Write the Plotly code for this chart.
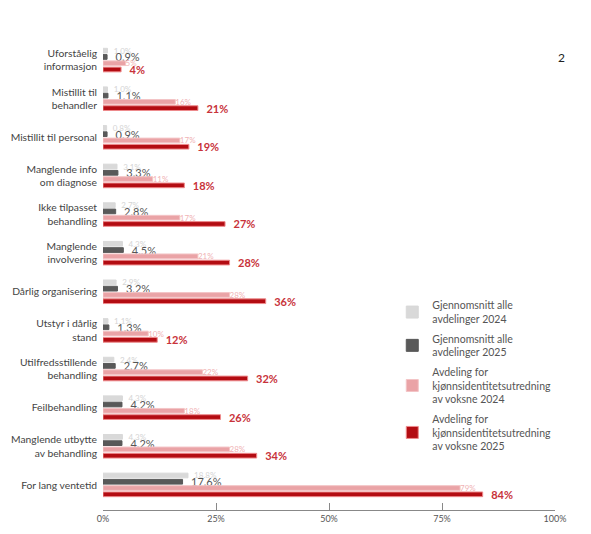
import plotly.graph_objects as go

categories = [
    "Uforståelig<br>informasjon",
    "Mistillit til<br>behandler",
    "Mistillit til personal",
    "Manglende info<br>om diagnose",
    "Ikke tilpasset<br>behandling",
    "Manglende<br>involvering",
    "Dårlig organisering",
    "Utstyr i dårlig<br>stand",
    "Utilfredsstillende<br>behandling",
    "Feilbehandling",
    "Manglende utbytte<br>av behandling",
    "For lang ventetid",
]
avg_2024 = [1.0, 1.0, 0.8, 3.1, 2.7, 4.3, 2.9, 1.1, 2.4, 4.3, 4.3, 18.8]
avg_2025 = [0.9, 1.1, 0.9, 3.3, 2.8, 4.5, 3.2, 1.3, 2.7, 4.2, 4.2, 17.6]
dept_2024 = [5, 16, 17, 11, 17, 21, 28, 10, 22, 18, 28, 79]
dept_2025 = [4, 21, 19, 18, 27, 28, 36, 12, 32, 26, 34, 84]
x_ticks = [0, 25, 50, 75, 100]

NB = "\u00a0\u00a0\u00a0"

series = [
    dict(name="Gjennomsnitt alle<br>avdelinger 2024", x=avg_2024, color="#d9d9d9",
         line="#d9d9d9", fmt=NB + "%{x:.1f}%", font=dict(size=8, color="#d4d4d4")),
    dict(name="Gjennomsnitt alle<br>avdelinger 2025", x=avg_2025, color="#595959",
         line="#595959", fmt=NB + "%{x:.1f}%", font=dict(size=11, color="#555555")),
    dict(name="Avdeling for<br>kjønnsidentitetsutredning<br>av voksne 2024", x=dept_2024,
         color="#eaa3a6", line="#f3c4c6", fmt="%{x:.0f}%", font=dict(size=8, color="#f0b3b5")),
    dict(name="Avdeling for<br>kjønnsidentitetsutredning<br>av voksne 2025", x=dept_2025,
         color="#b30c12", line="#ee8a8c", fmt=NB + "<b>%{x:.0f}%</b>",
         font=dict(size=11, color="#c8323a")),
]

fig = go.Figure()
for i, s in enumerate(series):
    fig.add_bar(
        name=s["name"],
        y=categories,
        x=s["x"],
        orientation="h",
        marker=dict(color=s["color"], line=dict(color=s["line"], width=1)),
        texttemplate=s["fmt"],
        textposition="outside",
        textfont=s["font"],
        constraintext="none",
        cliponaxis=False,
        legendgroup=str(i),
        hoverinfo="skip",
    )

# page has an 8px body margin, so the figure is a bit smaller than the window
fig.update_layout(
    width=575,
    height=518,
    barmode="group",
    bargap=0.35,
    bargroupgap=0.25,
    plot_bgcolor="white",
    paper_bgcolor="white",
    font=dict(family="Lato", size=11, color="#444444"),
    margin=dict(l=95, r=28, t=32, b=16, autoexpand=False),
    showlegend=True,
    legend=dict(
        x=0.64, y=0.464, xanchor="left", yanchor="top",
        traceorder="grouped", tracegroupgap=3,
        font=dict(size=10.5, color="#555555"),
        bgcolor="rgba(0,0,0,0)", itemwidth=30,
    ),
    xaxis=dict(
        range=[0, 100],
        tickvals=x_ticks,
        ticktext=[f"{v}%" for v in x_ticks],
        ticks="inside", ticklen=7, tickcolor="#888888",
        showline=True, linecolor="#888888", linewidth=1,
        showgrid=False, zeroline=False, automargin=False,
        tickfont=dict(size=9, color="#555555"),
    ),
    yaxis=dict(
        range=[11.65, -0.52],
        showgrid=False, zeroline=False, showline=False, ticks="",
        ticklabelstandoff=5, automargin=False,
        tickfont=dict(size=10.3, color="#444444"),
    ),
    annotations=[
        dict(text="2", xref="paper", yref="paper", x=1.026, y=0.983,
             showarrow=False, font=dict(size=12, color="#222222")),
    ],
)

fig.write_html("out.html")
